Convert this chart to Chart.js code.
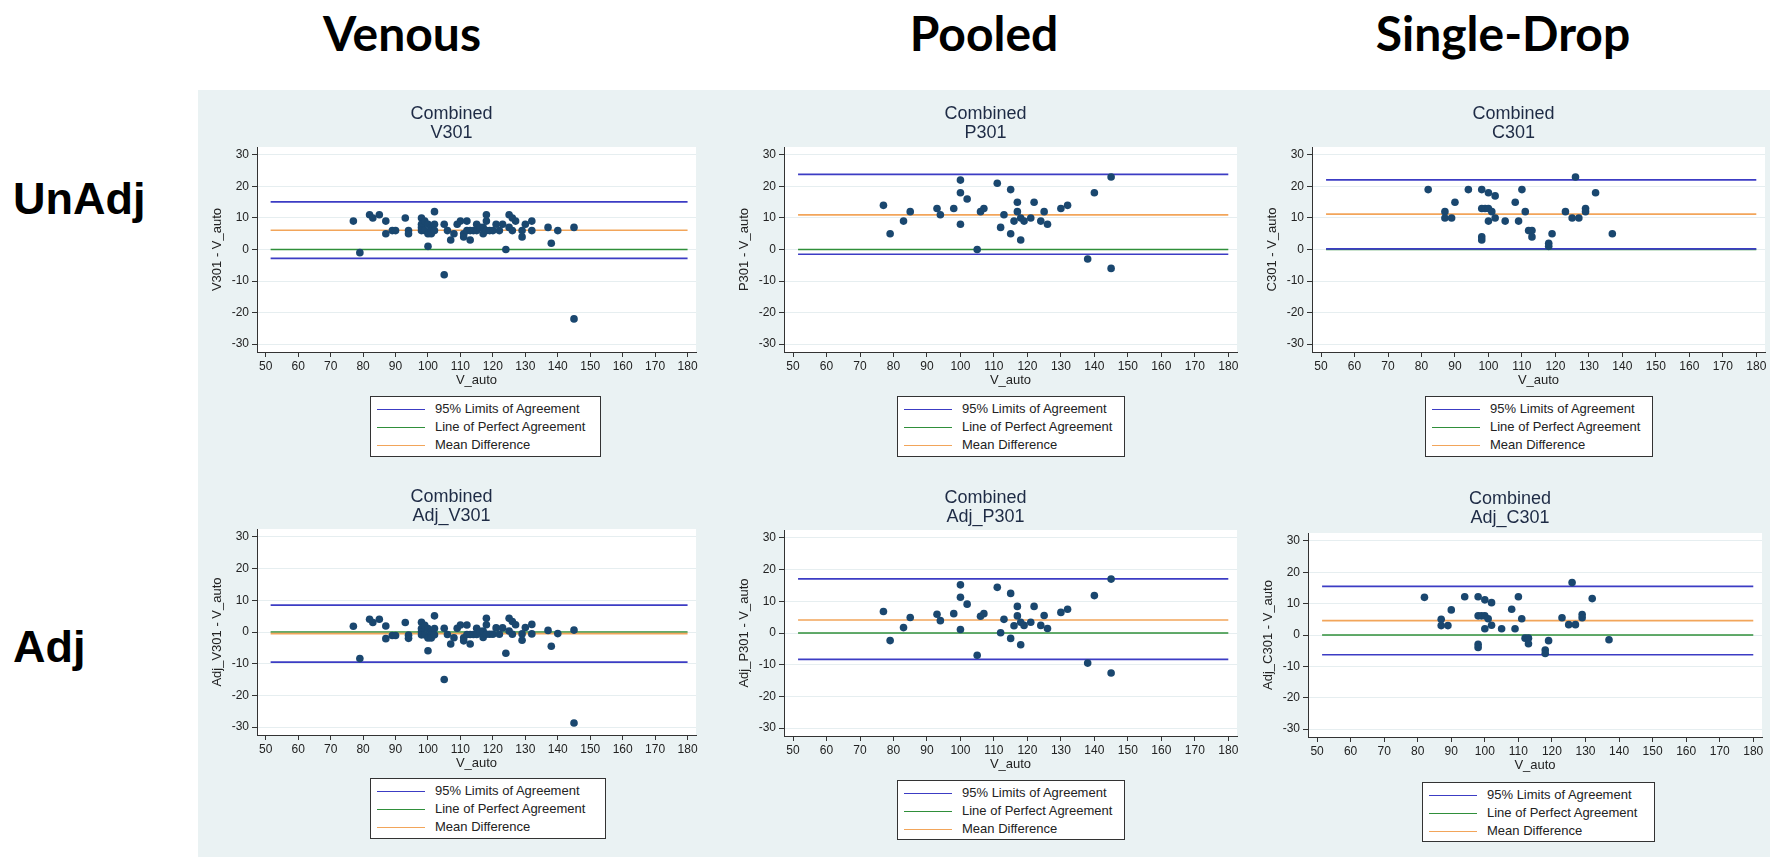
<!DOCTYPE html>
<html>
<head>
<meta charset="utf-8">
<script src="https://cdn.jsdelivr.net/npm/chart.js@4.4.1/dist/chart.umd.min.js"></script>
<style>
  body { margin: 0; width: 1770px; height: 857px; background: #fff; position: relative; overflow: hidden; }
  #bg { position: absolute; left: 198px; top: 90px; width: 1572px; height: 767px; background: #eaf2f3; }
  .head { position: absolute; top: 9px; font-family: Lato, sans-serif; font-weight: 700; font-size: 48px; line-height: 48px; color: #000; transform: translateX(-50%); white-space: nowrap; }
  .rowlab { position: absolute; left: 13px; font-family: 'Liberation Sans', Arial, sans-serif; font-weight: 700; font-size: 45px; line-height: 45px; color: #000; }
  .legend { position: absolute; background: #fff; border: 1px solid #333; box-sizing: border-box; font-family: 'Liberation Sans', Arial, sans-serif; font-size: 13px; color: #222; }
  .legend div { position: absolute; left: 64px; height: 18px; line-height: 18px; white-space: nowrap; }
  .legend span { position: absolute; left: -58px; top: 9px; width: 48px; height: 1px; }
  canvas { position: absolute; }
</style>
</head>
<body>
<div id="bg"></div>
<div class="head" style="left:402px">Venous</div>
<div class="head" style="left:984px">Pooled</div>
<div class="head" style="left:1503px">Single-Drop</div>
<div class="rowlab" style="top:176px">UnAdj</div>
<div class="rowlab" style="top:624px">Adj</div>

<script>
// axis ticks
const xTicks = [50, 60, 70, 80, 90, 100, 110, 120, 130, 140, 150, 160, 170, 180];
const yTicks = [-30, -20, -10, 0, 10, 20, 30];
const lineSpan = [51.5, 180];
const legendLabels = ['95% Limits of Agreement', 'Line of Perfect Agreement', 'Mean Difference'];

// Venous
const venAuto = [77, 79, 82, 83, 85, 87, 87, 89, 90, 93, 94, 94, 98, 98, 98, 98, 99, 99, 100, 100,
  100, 101, 101, 101, 102, 102, 102, 105, 105, 106, 107, 108, 109, 110, 111, 111, 112, 112, 113, 113,
  114, 115, 115, 116, 117, 117, 118, 118, 118, 119, 120, 121, 122, 123, 124, 125, 125, 126, 126, 127,
  129, 129, 130, 132, 132, 137, 138, 140, 145, 145];
const venDiff = [9, -1, 11, 10, 11, 9, 5, 6, 6, 10, 6, 5, 10, 8, 7, 6, 9, 6, 8, 5,
  1, 7, 6, 5, 12, 8, 6, 8, -8, 6, 3, 5, 8, 9, 5, 4, 9, 6, 3, 6,
  6, 8, 6, 7, 5, 7, 11, 9, 6, 6, 6, 8, 6, 8, 0, 11, 7, 10, 6, 9,
  6, 4, 8, 9, 6, 7, 2, 6, 7, -22];
const venAdjDiff = [1.8, -8.4, 4.0, 3.0, 4.0, 1.9, -2.1, -1.1, -1.1, 3.0, -1.0, -2.0, 3.1, 1.1, 0.1, -0.9, 2.1, -0.9, 1.1, -1.9,
  -5.9, 0.1, -0.9, -1.9, 5.1, 1.1, -0.9, 1.2, -15.0, -0.8, -3.8, -1.8, 1.2, 2.2, -1.8, -2.8, 2.2, -0.8, -3.8, -0.8,
  -0.8, 1.2, -0.8, 0.2, -1.7, 0.3, 4.3, 2.3, -0.7, -0.7, -0.7, 1.3, -0.7, 1.3, -6.7, 4.3, 0.3, 3.3, -0.7, 2.3,
  -0.6, -2.6, 1.4, 2.4, -0.6, 0.5, -4.5, -0.5, 0.6, -28.7];
const venLimits = [15.1, -2.8];
const venMean = 6.1;
const venAdjLimits = [8.5, -9.5];
const venAdjMean = -0.5;

// Pooled
const poolAuto = [77, 79, 83, 85, 93, 94, 98, 100, 100, 100, 102, 105, 106, 107, 111, 112, 113, 115, 115, 116,
  117, 117, 118, 118, 119, 121, 122, 124, 125, 126, 130, 132, 138, 140, 145, 145];
const poolDiff = [14, 5, 9, 12, 13, 11, 13, 22, 18, 8, 16, 0, 12, 13, 21, 7, 11, 19, 5, 9,
  15, 12, 10, 3, 9, 10, 15, 9, 12, 8, 13, 14, -3, 18, 23, -6];
const poolAdjDiff = [6.8, -2.4, 1.7, 4.9, 5.9, 3.9, 6.1, 15.2, 11.3, 1.1, 9.1, -7.0, 5.3, 6.1, 14.4, 0.1, 4.3, 12.5, -1.7, 2.3,
  8.4, 5.4, 3.4, -3.7, 2.4, 3.4, 8.4, 2.4, 5.5, 1.4, 6.5, 7.5, -9.5, 11.8, 17.0, -12.6];
const poolLimits = [23.8, -1.5];
const poolMean = 11.0;
const poolAdjLimits = [17.1, -8.3];
const poolAdjMean = 4.1;

// Single-Drop
const dropAuto = [82, 87, 87, 89, 90, 94, 98, 98, 98, 98, 99, 100, 100, 100, 101, 102, 102, 105, 108, 109,
  110, 111, 112, 113, 113, 118, 118, 119, 123, 125, 126, 127, 129, 129, 132, 137];
const dropDiff = [19, 12, 10, 10, 15, 19, 19, 13, 4, 3, 13, 18, 13, 9, 12, 17, 10, 9, 15, 9,
  19, 12, 6, 6, 4, 2, 1, 5, 12, 10, 23, 10, 13, 12, 18, 5];
const dropAdjDiff = [12.0, 5.0, 3.0, 3.0, 8.0, 12.2, 12.2, 6.1, -3.0, -4.0, 6.1, 11.2, 6.1, 2.0, 5.2, 10.3, 3.1, 2.0, 8.2, 2.0,
  12.2, 5.2, -1.0, -1.0, -2.8, -4.8, -5.9, -1.8, 5.5, 3.3, 16.7, 3.3, 6.5, 5.5, 11.6, -1.5];
const dropLimits = [22.1, 0.2];
const dropMean = 11.2;
const dropAdjLimits = [15.5, -6.3];
const dropAdjMean = 4.6;

const dotColor = '#1a476f';
const limitsColor = '#3c3cc4';
const perfectColor = '#2f8f3a';
const meanColor = '#f2a55a';
const lineColors = [limitsColor, perfectColor, meanColor];

Chart.defaults.font.family = "'Liberation Sans', Arial, sans-serif";
Chart.defaults.color = '#222';

const plotBg = {
  id: 'plotBg',
  beforeDraw(chart) {
    const { ctx, chartArea: a } = chart;
    ctx.save();
    ctx.fillStyle = '#fff';
    ctx.fillRect(a.left, a.top, a.right - a.left, a.bottom - a.top);
    ctx.restore();
  }
};

const panels = [
  { left: 207, top: 100, w: 497, h: 292, padR: 8, tt: 5, tb: 4, sub: 'V301', yLabel: 'V301 - V_auto',
    auto: venAuto, diff: venDiff, limits: venLimits, mean: venMean, leg: [370, 396, 231, 61] },
  { left: 734, top: 100, w: 511, h: 292, padR: 8, tt: 5, tb: 4, sub: 'P301', yLabel: 'P301 - V_auto',
    auto: poolAuto, diff: poolDiff, limits: poolLimits, mean: poolMean, leg: [897, 396, 228, 61] },
  { left: 1262, top: 100, w: 508, h: 292, padR: 5, tt: 5, tb: 4, sub: 'C301', yLabel: 'C301 - V_auto',
    auto: dropAuto, diff: dropDiff, limits: dropLimits, mean: dropMean, leg: [1425, 396, 228, 61] },
  { left: 207, top: 484, w: 497, h: 291, padR: 8, tt: 4, tb: 3, sub: 'Adj_V301', yLabel: 'Adj_V301 - V_auto',
    auto: venAuto, diff: venAdjDiff, limits: venAdjLimits, mean: venAdjMean, leg: [370, 778, 236, 61] },
  { left: 734, top: 485, w: 511, h: 291, padR: 8, tt: 4, tb: 3, sub: 'Adj_P301', yLabel: 'Adj_P301 - V_auto',
    auto: poolAuto, diff: poolAdjDiff, limits: poolAdjLimits, mean: poolAdjMean, leg: [897, 780, 228, 60] },
  { left: 1258, top: 485, w: 512, h: 292, padR: 8, tt: 5, tb: 5, sub: 'Adj_C301', yLabel: 'Adj_C301 - V_auto',
    auto: dropAuto, diff: dropAdjDiff, limits: dropAdjLimits, mean: dropAdjMean, leg: [1422, 782, 233, 60] },
];

function hline(y) {
  return lineSpan.map((x) => ({ x, y }));
}

function lineSet(label, color, y, order) {
  return {
    label, data: hline(y), showLine: true, borderColor: color, borderWidth: 1.7,
    pointRadius: 0, pointHoverRadius: 0, order,
  };
}

function makeLegend(p) {
  const box = document.createElement('div');
  box.className = 'legend';
  const [l, t, w, h] = p.leg;
  box.style.cssText = `left:${l}px;top:${t}px;width:${w}px;height:${h}px`;
  legendLabels.forEach((txt, i) => {
    const row = document.createElement('div');
    row.style.top = (3 + i * 18) + 'px';
    row.textContent = txt;
    const sw = document.createElement('span');
    sw.style.background = lineColors[i];
    row.appendChild(sw);
    box.appendChild(row);
  });
  document.body.appendChild(box);
}

function makePanel(p) {
  const cv = document.createElement('canvas');
  cv.width = p.w;
  cv.height = p.h;
  cv.style.left = p.left + 'px';
  cv.style.top = p.top + 'px';
  document.body.appendChild(cv);

  const pts = p.auto.map((x, i) => ({ x, y: p.diff[i] }));

  new Chart(cv, {
    type: 'scatter',
    data: {
      datasets: [
        { label: 'points', data: pts, backgroundColor: dotColor, borderWidth: 0, pointRadius: 3.8, order: 0 },
        lineSet(legendLabels[0], limitsColor, p.limits[0], 1),
        lineSet(legendLabels[0], limitsColor, p.limits[1], 1),
        lineSet(legendLabels[2], meanColor, p.mean, 2),
        lineSet(legendLabels[1], perfectColor, 0, 3),
      ],
    },
    options: {
      responsive: false,
      animation: false,
      devicePixelRatio: 1,
      layout: { padding: { left: 0, right: p.padR, top: 0, bottom: 0 } },
      plugins: {
        legend: { display: false },
        tooltip: { enabled: false },
        title: {
          display: true,
          text: ['Combined', p.sub],
          color: '#1e2b45',
          font: { size: 18, weight: 'normal', lineHeight: 19 / 18 },
          padding: { top: p.tt, bottom: p.tb },
        },
      },
      scales: {
        x: {
          type: 'linear',
          min: 47.3,
          max: 182.6,
          afterBuildTicks: (s) => { s.ticks = xTicks.map((v) => ({ value: v })); },
          afterFit: (s) => { s.height = 40; },
          grid: { drawOnChartArea: false, tickLength: 5, tickColor: '#333' },
          border: { color: '#333', width: 1 },
          ticks: { autoSkip: false, maxRotation: 0, padding: 2, color: '#222', font: { size: 12 } },
          title: { display: true, text: 'V_auto', color: '#222', font: { size: 13 }, padding: { top: 0, bottom: 4 } },
        },
        y: {
          type: 'linear',
          min: -32.5,
          max: 32.5,
          afterBuildTicks: (s) => { s.ticks = yTicks.map((v) => ({ value: v })); },
          afterFit: (s) => { s.width = 50; },
          grid: { color: '#e6eef0', tickLength: 5, tickColor: '#333' },
          border: { color: '#333', width: 1 },
          ticks: { autoSkip: false, padding: 3, color: '#222', font: { size: 12 } },
          title: { display: true, text: p.yLabel, color: '#222', font: { size: 13 }, padding: { top: 2.5, bottom: 0 } },
        },
      },
    },
    plugins: [plotBg],
  });

  makeLegend(p);
}

panels.forEach(makePanel);
</script>
</body>
</html>
